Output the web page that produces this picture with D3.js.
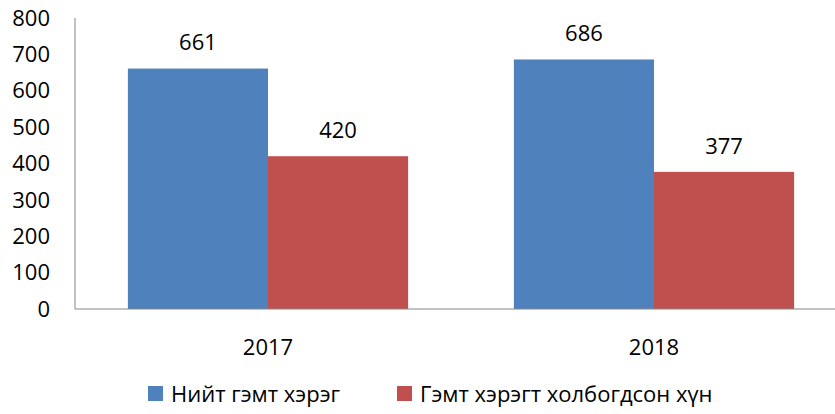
<!DOCTYPE html>
<html>
<head>
<meta charset="utf-8">
<script src="https://cdn.jsdelivr.net/npm/d3@7"></script>
<style>
  body { margin: 0; background: #fff; }
  svg text { font-family: "Open Sans", "Noto Sans", sans-serif; fill: #000; }
</style>
</head>
<body>
<svg id="chart" width="835" height="414"></svg>
<script>
// данные
const years = ["2017", "2018"];
const seriesNames = ["Нийт гэмт хэрэг", "Гэмт хэрэгт холбогдсон хүн"];
const totalCrimes = [661, 686];
const involvedPeople = [420, 377];
const yTicks = [0, 100, 200, 300, 400, 500, 600, 700, 800];
const colors = ["#4F81BD", "#C0504D"];

const svg = d3.select("#chart");
const plotLeft = 75, plotRight = 847, plotTop = 18, plotBottom = 309;
const fontSize = 22;

// группы по годам
const x = d3.scaleBand().domain(years).range([plotLeft, plotRight]);
const groupPad = 0.137;
const x1 = d3.scaleBand().domain([0, 1])
    .range([x.bandwidth() * groupPad, x.bandwidth() * (1 - groupPad)]);

const y = d3.scaleLinear().domain([0, 800]).range([plotBottom, plotTop]);

// ось Y
svg.append("line")
    .attr("x1", plotLeft).attr("x2", plotLeft)
    .attr("y1", y(800)).attr("y2", y(0))
    .attr("stroke", "#868686").attr("stroke-width", 1);

svg.append("g").selectAll("text")
    .data(yTicks).enter().append("text")
    .attr("x", 50).attr("y", d => y(d))
    .attr("dy", "0.35em")
    .attr("text-anchor", "end")
    .attr("font-size", fontSize)
    .text(d => d);

// столбцы
const groups = svg.append("g").selectAll("g")
    .data(years).enter().append("g")
    .attr("transform", d => `translate(${x(d)},0)`);

const rows = years.map((yr, i) => [totalCrimes[i], involvedPeople[i]]);

groups.selectAll("rect")
    .data((d, i) => rows[i])
    .enter().append("rect")
    .attr("x", (d, j) => x1(j))
    .attr("width", x1.bandwidth())
    .attr("y", d => y(d))
    .attr("height", d => y(0) - y(d))
    .attr("fill", (d, j) => colors[j]);

groups.selectAll("text.val")
    .data((d, i) => rows[i])
    .enter().append("text")
    .attr("class", "val")
    .attr("x", (d, j) => x1(j) + x1.bandwidth() / 2)
    .attr("y", d => y(d) - 26)
    .attr("dy", "0.35em")
    .attr("text-anchor", "middle")
    .attr("font-size", fontSize)
    .text(d => d);

// ось X
svg.append("line")
    .attr("x1", plotLeft).attr("x2", 835)
    .attr("y1", y(0)).attr("y2", y(0))
    .attr("stroke", "#868686").attr("stroke-width", 1);

svg.append("g").selectAll("text")
    .data(years).enter().append("text")
    .attr("x", d => x(d) + x.bandwidth() / 2)
    .attr("y", 347)
    .attr("dy", "0.35em")
    .attr("text-anchor", "middle")
    .attr("font-size", fontSize)
    .text(d => d);

// легенда
const legendX = [148, 397];
const legend = svg.append("g").selectAll("g")
    .data(seriesNames).enter().append("g")
    .attr("transform", (d, i) => `translate(${legendX[i]},386)`);

legend.append("rect")
    .attr("width", 15).attr("height", 15)
    .attr("fill", (d, i) => colors[i]);

legend.append("text")
    .attr("x", 23).attr("y", 8)
    .attr("dy", "0.35em")
    .attr("font-size", fontSize)
    .text(d => d);
</script>
</body>
</html>
